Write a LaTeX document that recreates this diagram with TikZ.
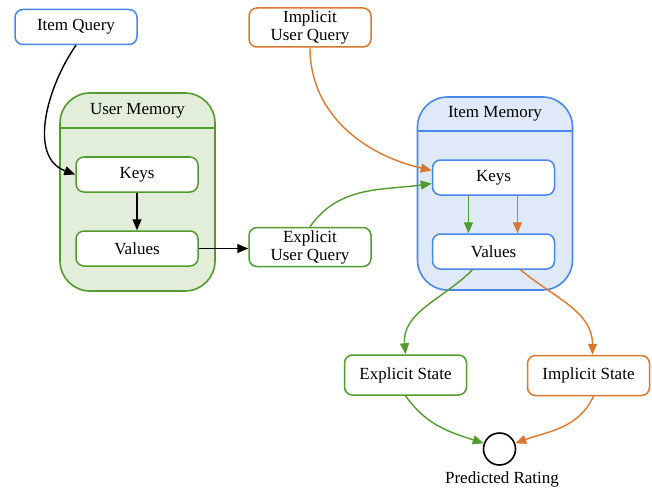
\documentclass[tikz,border=0pt]{standalone}
\usepackage{fontspec}
\setmainfont{Liberation Serif}
\usetikzlibrary{arrows.meta}
\definecolor{qblue}{HTML}{4A86E8}
\definecolor{qbluefill}{HTML}{DFE9F8}
\definecolor{qgreen}{HTML}{549B2E}
\definecolor{qgreenfill}{HTML}{E2EEDA}
\definecolor{qorange}{HTML}{D9782F}
\begin{document}
\begin{tikzpicture}[x=1pt, y=1pt,
    every node/.style = {font=\fontsize{17}{18}\selectfont, align=center, inner sep=2pt},
    box/.style = {draw=#1, rounded corners=8pt, fill=white, line width=1.5pt, minimum width=122pt, minimum height=35pt},
    mem/.style = {draw=#1, rounded corners=30pt, line width=1.6pt, minimum width=155pt},
    link/.style = {-{Triangle[length=11pt,width=9pt]}, line width=1.4pt}]
  \useasboundingbox (0,0) rectangle (652,-489);
  % memories
  \node[mem=qgreen, fill=qgreenfill, minimum height=198pt] (um) at (137.5,-192) {};
  \draw[qgreen, line width=1.6pt] (um.west |- 0,-128) -- (um.east |- 0,-128);
  \node (umt) at (137.5,-111) {User Memory};
  \node[mem=qblue, fill=qbluefill, minimum height=193pt] (im) at (495,-193.5) {};
  \draw[qblue, line width=1.6pt] (im.west |- 0,-131) -- (im.east |- 0,-131);
  \node (imt) at (495,-114) {Item Memory};
  % queries
  \node[box=qblue] (iq) at (76,-27) {Item Query};
  \node[box=qorange, minimum height=39pt] (iuq) at (310,-27.5) {Implicit\\User Query};
  \node[box=qgreen, minimum height=39pt] (euq) at (310,-247) {Explicit\\User Query};
  % keys and values
  \node[box=qgreen] (uk) at (137,-174.5) {Keys};
  \node[box=qgreen] (uv) at (137,-248.5) {Values};
  \node[box=qblue] (ik) at (493.5,-177.5) {Keys};
  \node[box=qblue] (iv) at (493.5,-251.5) {Values};
  % states
  \node[box=qgreen, minimum height=40pt] (es) at (405.5,-375) {Explicit State};
  \node[box=qorange, minimum height=40pt] (is) at (588.5,-375.5) {Implicit State};
  \node[draw, circle, line width=1.6pt, minimum size=32pt, inner sep=0pt] (rc) at (499.5,-449) {};
  \node (pr) at (502,-479) {Predicted Rating};
  % links
  \draw[link] (iq.south) to[out=-125, in=160] (uk.west);
  \draw[link] (uk.south) -- (uv.north);
  \draw[link] (uv.east) -- (uv.east -| euq.west);
  \draw[link, qorange] (iuq.south) to[out=-90, in=167] ([yshift=7pt]ik.west);
  \draw[link, qgreen] (euq.north) to[out=55, in=188] ([yshift=-6pt]ik.west);
  \draw[link, qgreen] ([xshift=-25pt]ik.south) -- ([xshift=-25pt]iv.north);
  \draw[link, qorange] ([xshift=24pt]ik.south) -- ([xshift=24pt]iv.north);
  \draw[link, qgreen] ([xshift=-21pt]iv.south) to[out=-135, in=95] (es.north);
  \draw[link, qorange] ([xshift=27pt]iv.south) to[out=-40, in=90] ([xshift=4pt]is.north);
  \draw[link, qgreen] (es.south) to[out=-55, in=162] (rc.160);
  \draw[link, qorange] ([xshift=5pt]is.south) to[out=-115, in=20] (rc.20);
\end{tikzpicture}
\end{document}
